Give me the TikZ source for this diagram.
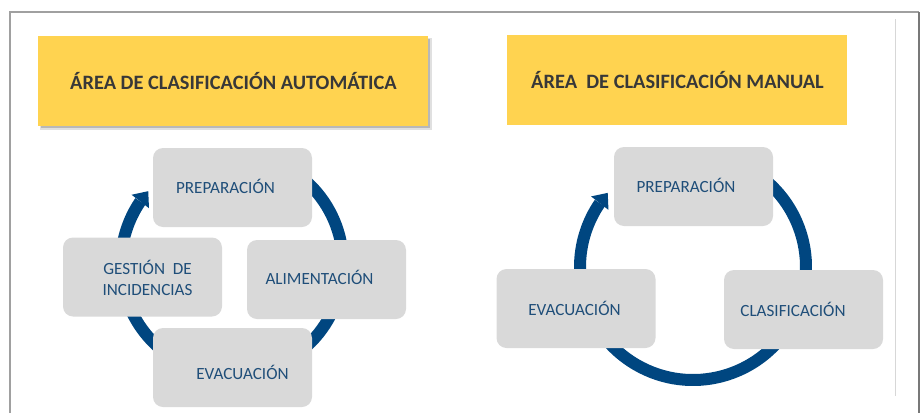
\documentclass[tikz,border=0pt]{standalone}
\usepackage{fontspec}
\setmainfont{Carlito}
\usetikzlibrary{arrows.meta,bending}
\definecolor{ringblue}{RGB}{0,70,128}
\definecolor{boxgrey}{RGB}{217,217,217}
\definecolor{txtblue}{RGB}{31,78,121}
\definecolor{ttlyellow}{RGB}{255,211,80}
\definecolor{ttltext}{RGB}{56,56,56}
\definecolor{framegrey}{RGB}{160,160,160}
\definecolor{framedark}{RGB}{120,120,120}
\definecolor{innergrey}{RGB}{215,215,215}
\begin{document}
\begin{tikzpicture}[x=1pt,y=-1pt,
  stepbox/.style={rounded corners=10pt, fill=boxgrey, draw=none, minimum width=159pt, minimum height=79pt, inner sep=0pt},
  lbl/.style={anchor=base, text=txtblue, font=\fontsize{17.1}{20}\selectfont, inner sep=0pt, align=left},
  titlebox/.style={fill=ttlyellow, draw=none, inner sep=0pt, minimum height=90pt},
  ttl/.style={anchor=base, text=ttltext, font=\bfseries\fontsize{20.4}{24}\selectfont, inner sep=0pt},
  ring/.style={draw=ringblue, line width=12pt, -{Triangle[width=22pt,length=13pt,line width=0pt]}}
]
\useasboundingbox (0,0) rectangle (922,413);
% frame
\coordinate (fbl) at (10,413);
\coordinate (ftl) at (10,12);
\coordinate (ftr) at (919,12);
\coordinate (fbr) at (919,413);
\coordinate (it) at (895,19);
\coordinate (ib) at (895,396);
\draw[framegrey, line width=1.5pt] (fbl) -- (ftl) -- (ftr);
\draw[framedark, line width=2pt] (ftr) -- (fbr);
\draw[innergrey, line width=1pt] (it) -- (ib);

% titles
\fill[black, opacity=0.12] (40,38) rectangle (432,130);
\fill[black, opacity=0.18] (41,39) rectangle (430,128);
\node[titlebox, minimum width=390pt] (tA) at (233,81) {};
\node[ttl] (tAt) at (233.5,89.3) {ÁREA DE CLASIFICACIÓN AUTOMÁTICA};
\node[titlebox, minimum width=340pt] (tB) at (677,80) {};
\node[ttl] (tBt) at (677.5,88.7) {ÁREA\ \ DE CLASIFICACIÓN MANUAL};

% left cycle
\coordinate (cA) at (232,264);
\draw[ring] (cA) ++(-60:111) arc[start angle=-60, end angle=221, radius=111];
\node[stepbox] (pA) at (232.5,187.5) {};
\node[stepbox] (aA) at (326.5,279.5) {};
\node[stepbox] (eA) at (232.5,367.5) {};
\node[stepbox] (gA) at (142.5,277) {};
\node[lbl] (pAt) at (225.5,193) {PREPARACIÓN};
\node[lbl] (aAt) at (319.5,284.3) {ALIMENTACIÓN};
\node[lbl] (eAt) at (242.5,379.3) {EVACUACIÓN};
\node[lbl] (gAt1) at (147.5,274.3) {GESTIÓN\ \ DE};
\node[lbl] (gAt2) at (147.5,295.3) {INCIDENCIAS};

% right cycle
\coordinate (cB) at (693,267);
\draw[ring] (cB) ++(-60:113) arc[start angle=-60, end angle=221, radius=113];
\node[stepbox] (pB) at (693.5,186.5) {};
\node[stepbox] (eB) at (576,308.5) {};
\node[stepbox] (cBx) at (803.5,309.5) {};
\node[lbl] (pBt) at (686,192.3) {PREPARACIÓN};
\node[lbl] (eBt) at (574.5,315) {EVACUACIÓN};
\node[lbl] (cBt) at (793,316) {CLASIFICACIÓN};
\end{tikzpicture}
\end{document}
